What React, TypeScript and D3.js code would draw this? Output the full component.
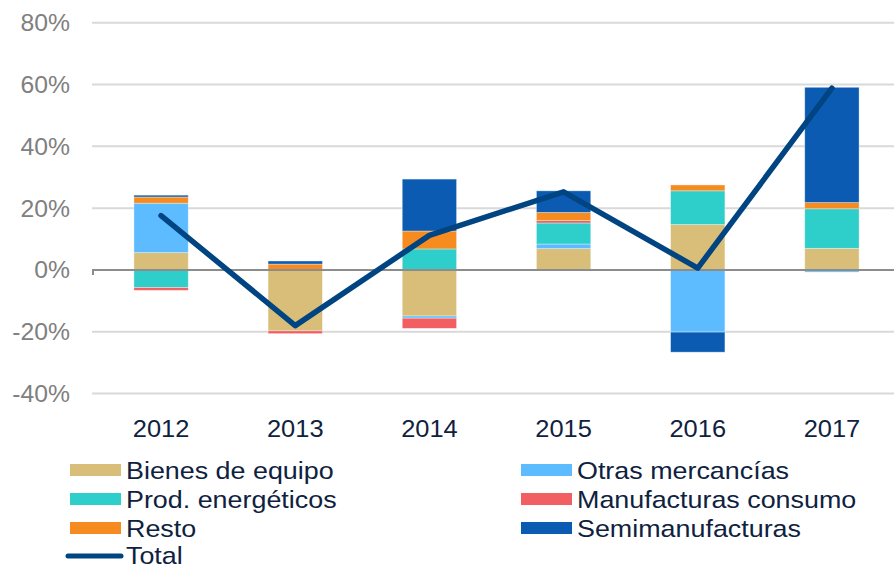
import React from "react";
import * as d3 from "d3";

const years = ["2012", "2013", "2014", "2015", "2016", "2017"];
const seriesNames = [
  "Bienes de equipo",
  "Otras mercancías",
  "Prod. energéticos",
  "Manufacturas consumo",
  "Resto",
  "Semimanufacturas",
];
const bienes = [5.6, -19.7, -14.9, 6.9, 14.7, 7.0];
const otras = [16.0, 0, -0.7, 1.5, -20.1, -0.7];
const prod = [-5.7, 0, 6.8, 6.8, 10.9, 12.8];
const manuf = [-0.9, -0.9, -3.3, 0.8, 0, 0];
const resto = [2.0, 1.9, 5.8, 2.6, 1.9, 2.0];
const semi = [0.6, 1.0, 16.8, 7.0, -6.5, 37.3];
const total = [17.6, -18.0, 11.2, 25.3, 0.6, 58.8];
const yTicks = [-40, -20, 0, 20, 40, 60, 80];
const colors = ["#D8BE78", "#5DBCFF", "#2ECECA", "#F25F63", "#F68B1F", "#0B5BB3"];
const totalColor = "#004481";

export default function App() {
  const W = 894;
  const H = 567;
  const x = d3
    .scaleBand<string>()
    .domain(years)
    .range([94, 899])
    .paddingInner(0.595)
    .paddingOuter(0.2975);
  const y = d3.scaleLinear().domain([-40, 80]).range([393.6, 22.7]);

  const seriesVals = [bienes, otras, prod, manuf, resto, semi];
  const rows = years.map((yr, i) => {
    const r: any = { year: yr };
    seriesNames.forEach((n, k) => (r[n] = seriesVals[k][i]));
    return r;
  });
  const stacked = d3
    .stack<any>()
    .keys(seriesNames)
    .offset(d3.stackOffsetDiverging)(rows);

  const line = d3
    .line<number>()
    .x((_, i) => (x(years[i]) as number) + x.bandwidth() / 2)
    .y((d) => y(d));

  const font = "'Liberation Sans', Arial, sans-serif";
  const legendItems = [
    { name: seriesNames[0], color: colors[0], col: 0, row: 0 },
    { name: seriesNames[1], color: colors[1], col: 1, row: 0 },
    { name: seriesNames[2], color: colors[2], col: 0, row: 1 },
    { name: seriesNames[3], color: colors[3], col: 1, row: 1 },
    { name: seriesNames[4], color: colors[4], col: 0, row: 2 },
    { name: seriesNames[5], color: colors[5], col: 1, row: 2 },
  ];
  const colX = [70, 521];
  const rowY = [470, 499, 528, 556];
  const legSX = 1.12;

  return (
    <svg
      width={W}
      height={H}
      style={{ position: "absolute", left: 0, top: 0, background: "#fff" }}
    >
      {yTicks.map((t) => (
        <g key={t}>
          {t !== 0 && (
            <line x1={92} x2={894} y1={y(t)} y2={y(t)} stroke="#D9D9D9" strokeWidth={2} />
          )}
          <g transform={`translate(70,${y(t) + 8.5}) scale(1.03,1)`}>
            <text
              textAnchor="end"
              fontFamily={font}
              fontSize={24}
              fill="#808080"
            >
              {t}%
            </text>
          </g>
        </g>
      ))}
      {stacked.map((s, k) => (
        <g key={s.key} fill={colors[k]}>
          {s.map((d, i) => {
            const h = Math.abs(y(d[0]) - y(d[1]));
            if (h < 0.01) return null;
            return (
              <rect
                key={i}
                x={x(years[i])}
                width={x.bandwidth()}
                y={Math.min(y(d[0]), y(d[1]))}
                height={h}
                stroke="rgba(255,255,255,0.45)"
                strokeWidth={0.8}
              />
            );
          })}
        </g>
      ))}
      <line x1={92} x2={894} y1={y(0)} y2={y(0)} stroke="#8C8C8C" strokeWidth={2} />
      <line x1={93} x2={93} y1={y(0)} y2={y(0) + 5} stroke="#8C8C8C" strokeWidth={2} />
      <path
        d={line(total) || ""}
        fill="none"
        stroke={totalColor}
        strokeWidth={5.5}
        strokeLinejoin="round"
        strokeLinecap="round"
      />
      {years.map((yr) => (
        <g
          key={yr}
          transform={`translate(${(x(yr) as number) + x.bandwidth() / 2},437) scale(1.06,1)`}
        >
          <text textAnchor="middle" fontFamily={font} fontSize={24} fill="#0E2240">
            {yr}
          </text>
        </g>
      ))}
      {legendItems.map((it) => (
        <g key={it.name}>
          <rect x={colX[it.col]} y={rowY[it.row] - 6} width={51} height={12} fill={it.color} />
          <g transform={`translate(${colX[it.col] + 56},${rowY[it.row] + 8.5}) scale(${legSX},1)`}>
            <text fontFamily={font} fontSize={24} fill="#0E2240">
              {it.name}
            </text>
          </g>
        </g>
      ))}
      <line
        x1={68}
        x2={121}
        y1={rowY[3]}
        y2={rowY[3]}
        stroke={totalColor}
        strokeWidth={5}
        strokeLinecap="round"
      />
      <g transform={`translate(126,${rowY[3] + 8}) scale(${legSX},1)`}>
        <text fontFamily={font} fontSize={24} fill="#0E2240">
          Total
        </text>
      </g>
    </svg>
  );
}
